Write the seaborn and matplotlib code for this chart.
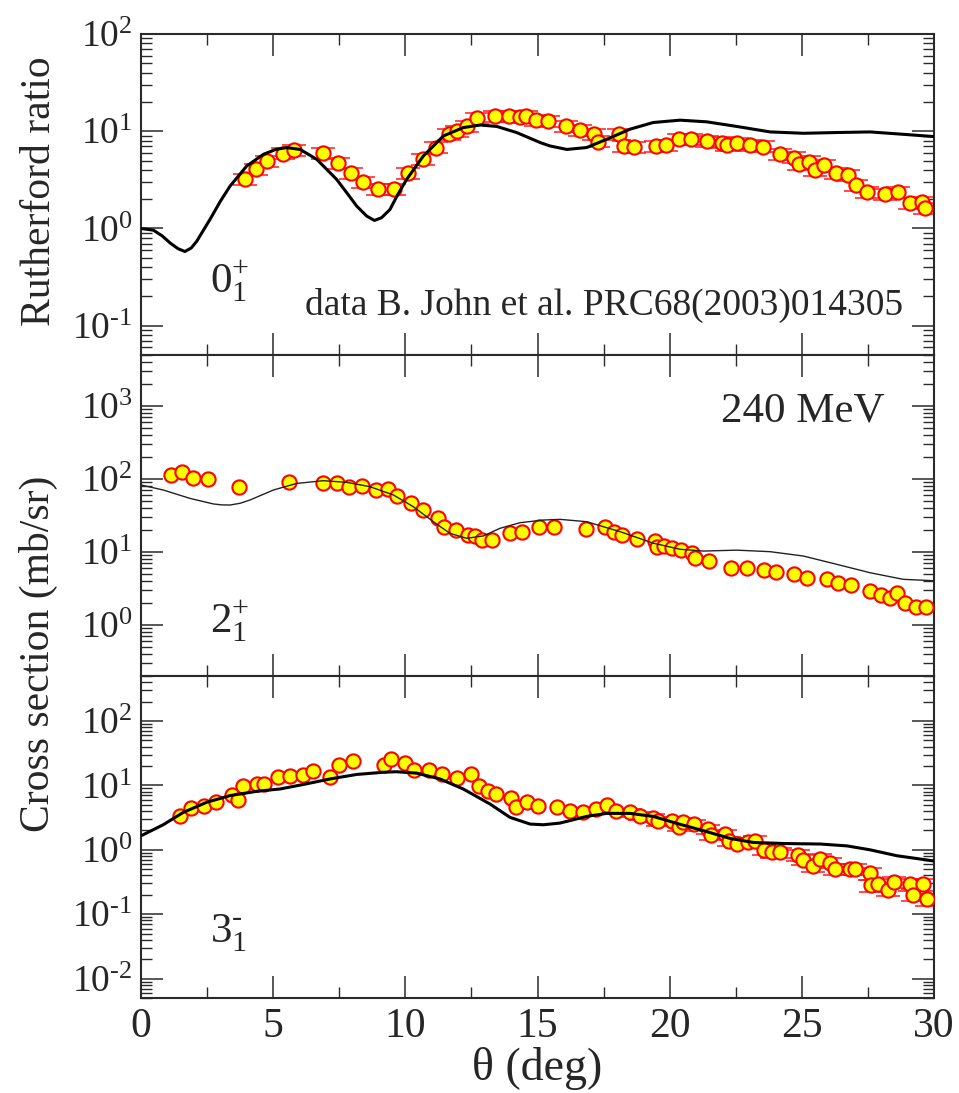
import numpy as np
import pandas as pd
import matplotlib
matplotlib.use("Agg")
import matplotlib.pyplot as plt
import seaborn as sns
from matplotlib.ticker import LogLocator, MultipleLocator, FuncFormatter, NullFormatter

# ---------------- data ----------------
# Panel 1: 0+_1 elastic, Rutherford ratio
x_g = [3.93, 4.34, 4.75, 5.36, 5.80, 6.90, 7.47, 7.95, 8.39, 8.98, 9.57, 10.09, 10.68, 11.15,
       11.65, 11.94, 12.32, 12.70, 13.39, 13.92, 14.34, 14.57, 14.95, 15.40, 16.07, 16.61,
       17.14, 17.27, 18.07, 18.29, 18.66, 19.47, 19.85, 20.36, 20.80, 21.43, 21.97, 22.18,
       22.55, 23.03, 23.52, 24.18, 24.72, 24.91, 25.26, 25.50, 25.82, 26.30, 26.74, 27.05,
       27.48, 28.15, 28.63, 29.10, 29.54, 29.66]
y_g = [3.2, 4.1, 4.94, 5.89, 6.41, 5.93, 4.75, 3.69, 3.0, 2.52, 2.52, 3.69, 5.14, 6.79,
       9.3, 10.1, 11.3, 13.7, 14.2, 14.4, 14.1, 14.4, 13.1, 12.7, 11.3, 10.3,
       9.3, 7.83, 9.3, 7.06, 6.9, 7.06, 7.22, 8.27, 8.27, 7.95, 7.65, 7.22,
       7.52, 7.22, 6.95, 5.79, 5.36, 4.57, 4.87, 3.99, 4.5, 3.75, 3.55, 2.8,
       2.39, 2.24, 2.39, 1.84, 1.87, 1.63]
rel_err_g = 0.13

th_x_g = [0.0, 0.47, 0.8, 1.10, 1.4, 1.66, 1.9, 2.11, 2.61, 3.0, 3.37, 4.0, 4.63, 5.1, 5.51,
          6.02, 6.65, 7.40, 7.8, 8.16, 8.54, 8.83, 9.10, 9.42, 9.7, 10.05, 10.68, 11.44,
          12.19, 12.83, 13.46, 14.21, 15.10, 15.47, 16.11, 16.86, 17.62, 18.50, 19.38,
          20.39, 21.40, 22.54, 23.80, 25.06, 26.32, 27.58, 28.84, 30.0]
th_y_g = [1.0, 0.96, 0.84, 0.71, 0.62, 0.58, 0.63, 0.74, 1.24, 1.9, 2.73, 4.39, 5.79, 6.5, 6.79,
          6.5, 5.14, 3.2, 2.3, 1.70, 1.34, 1.21, 1.29, 1.57, 2.2, 3.2, 5.56, 8.95,
          10.9, 11.6, 11.2, 9.7, 7.65, 7.06, 6.5, 6.8, 8.27, 10.5, 12.3,
          13.0, 12.5, 11.2, 9.84, 9.53, 9.7, 9.84, 9.3, 8.81]

# Panel 2: 2+_1, cross section (mb/sr)
x_2p = [1.14, 1.56, 1.98, 2.52, 3.72, 5.61, 6.90, 7.40, 7.87, 8.35, 8.89, 9.33, 9.67, 10.22,
        10.68, 11.23, 11.46, 11.92, 12.38, 12.64, 12.91, 13.27, 13.96, 14.40, 15.07, 15.64,
        16.84, 17.56, 17.91, 18.21, 18.75, 19.45, 19.51, 19.79, 20.08, 20.43, 20.86, 20.96,
        21.49, 22.32, 22.92, 23.58, 24.01, 24.71, 25.19, 25.94, 26.38, 26.86, 27.58, 28.0,
        28.34, 28.59, 28.91, 29.32, 29.69]
y_2p = [113, 124, 104, 100, 78.5, 90, 87, 87, 78.5, 81, 71, 72, 59, 47,
        37.6, 28.9, 22.2, 20, 17.1, 16.6, 14.6, 14.6, 18, 19, 22.2, 22.2,
        20.6, 21.8, 19, 17.1, 15.1, 14.3, 11.6, 12.1, 11.3, 10.6, 9.8, 8.2,
        7.5, 6.0, 6.0, 5.67, 5.37, 4.95, 4.44, 4.22, 3.72, 3.53, 2.92, 2.58,
        2.32, 2.72, 1.98, 1.75, 1.75]

th_x_2p = [0.0, 0.84, 1.85, 2.74, 3.05, 3.37, 3.75, 4.12, 5.01, 5.89, 6.90, 7.78, 8.66, 9.55,
           10.30, 11.06, 11.69, 12.32, 12.95, 13.58, 14.34, 15.22, 15.85, 16.86, 18.12,
           19.38, 20.39, 21.28, 22.54, 23.80, 25.06, 26.32, 27.58, 28.84, 30.0]
th_y_2p = [82.8, 70.7, 54.3, 45.5, 44.2, 44, 46.5, 51.5, 70.7, 87, 94.8, 90, 78.5, 60.4,
           41.8, 26, 18, 15.4, 16.6, 21.1, 25.2, 27.4, 28, 26, 19,
           13.2, 10.9, 10.3, 10.6, 10.1, 8.8, 6.78, 5.2, 4.22, 4.04]

# Panel 3: 3-_1, cross section (mb/sr)
x_3m = [1.47, 1.89, 2.38, 2.84, 3.43, 3.66, 3.87, 4.38, 4.67, 5.20, 5.64, 6.12, 6.50, 7.15,
        7.49, 8.03, 9.19, 9.46, 9.99, 10.34, 10.90, 11.38, 11.97, 12.47, 12.79, 13.14,
        13.42, 14.0, 14.18, 14.62, 15.0, 15.73, 16.23, 16.71, 17.22, 17.64, 17.97, 18.50,
        18.86, 19.38, 19.57, 20.08, 20.37, 20.52, 20.92, 21.46, 21.55, 22.09, 22.24, 22.56,
        22.95, 23.23, 23.58, 23.86, 24.18, 24.87, 25.04, 25.42, 25.70, 26.08, 26.27, 26.84,
        27.0, 27.58, 27.62, 27.90, 28.25, 28.50, 29.10, 29.22, 29.60, 29.75]
y_3m = [3.3, 4.4, 4.85, 5.46, 7.2, 6.02, 9.7, 10.6, 10.6, 13.4, 13.9, 14.3, 16.6, 13.4,
        20.4, 23.8, 20.4, 25.9, 22.5, 17.1, 17.1, 14.8, 12.9, 15.1, 9.7, 8.1,
        7.38, 6.4, 4.57, 5.46, 4.73, 4.57, 4.06, 3.91, 4.31, 4.98, 4.06, 3.81,
        3.39, 3.12, 2.76, 2.83, 2.3, 2.67, 2.51, 2.1, 1.69, 1.75, 1.38, 1.25,
        1.3, 1.38, 1.0, 0.91, 0.91, 0.83, 0.70, 0.56, 0.72, 0.63, 0.51, 0.51,
        0.51, 0.43, 0.28, 0.29, 0.24, 0.32, 0.29, 0.20, 0.29, 0.17]
rel_err_3m = [0, 0, 0, 0, 0, 0, 0, 0, 0, 0, 0, 0, 0, 0,
              0, 0, 0, 0, 0, 0, 0, 0, 0, 0, 0, 0,
              0, 0, 0, 0, 0, 0, 0, 0, 0, 0, 0, 0.14,
              0.14, 0.14, 0.14, 0.15, 0.15, 0.15, 0.15, 0.16, 0.16, 0.16, 0.16, 0.16,
              0.17, 0.17, 0.17, 0.17, 0.17, 0.18, 0.18, 0.18, 0.18, 0.18, 0.19, 0.19,
              0.19, 0.2, 0.2, 0.2, 0.2, 0.2, 0.21, 0.21, 0.21, 0.21]

th_x_3m = [0.0, 0.84, 1.6, 2.48, 3.37, 4.38, 5.26, 6.27, 7.15, 8.16, 9.17, 9.67, 10.43,
           11.31, 12.19, 13.20, 13.96, 14.72, 15.22, 15.85, 16.86, 17.62, 18.50, 19.38,
           20.27, 21.28, 22.29, 23.17, 24.43, 25.70, 26.71, 27.58, 28.59, 29.47, 30.0]
th_y_3m = [1.65, 2.45, 3.81, 5.46, 6.95, 8.1, 8.8, 10.6, 12.6, 14.8, 16.0, 16.3, 15.5,
           12.6, 8.8, 5.15, 3.19, 2.51, 2.45, 2.6, 3.3, 3.68, 3.68, 3.3,
           2.57, 1.98, 1.5, 1.3, 1.25, 1.23, 1.15, 1.0, 0.81, 0.72, 0.67]

x_ticks = [0, 5, 10, 15, 20, 25, 30]

# ---------------- style ----------------
sns.set_style("ticks")
plt.rcParams["font.family"] = ["Liberation Serif", "DejaVu Serif"]
plt.rcParams["mathtext.fontset"] = "custom"
plt.rcParams["mathtext.rm"] = "Liberation Serif"
plt.rcParams["mathtext.it"] = "Liberation Serif:italic"
plt.rcParams["mathtext.bf"] = "Liberation Serif:bold"

W, H = 959, 1093
fig = plt.figure(figsize=(W / 100, H / 100), dpi=100)
fig.patch.set_facecolor("white")

left = 141 / W
width = 793 / W
panels = [
    (34, 355, (0.05, 100)),
    (355, 676, (0.2, 5000)),
    (676, 998, (0.005, 500)),
]
axes = []
for top_px, bot_px, ylim in panels:
    ax = fig.add_axes([left, 1 - bot_px / H, width, (bot_px - top_px) / H])
    ax.set_yscale("log")
    ax.set_xlim(0, 30)
    ax.set_ylim(*ylim)
    axes.append(ax)


def ylab(v, pos):
    e = int(round(np.log10(v)))
    if e < 0:
        return r"$10^{\text{-}%d}$" % (-e)
    return r"$10^{%d}$" % e


edge = "#2a2a2a"
for i, ax in enumerate(axes):
    ax.xaxis.set_major_locator(MultipleLocator(5))
    ax.xaxis.set_minor_locator(MultipleLocator(2.5))
    ax.yaxis.set_major_locator(LogLocator(base=10, numticks=30))
    ax.yaxis.set_minor_locator(LogLocator(base=10, subs=np.arange(2, 10), numticks=30))
    ax.yaxis.set_major_formatter(FuncFormatter(ylab))
    ax.yaxis.set_minor_formatter(NullFormatter())
    ax.tick_params(which="major", direction="in", length=16, width=1.1, color=edge,
                   top=True, right=True)
    ax.tick_params(which="minor", direction="in", length=8, width=1.0, color=edge,
                   top=True, right=True)
    ax.tick_params(axis="y", which="major", labelsize=27, pad=6)
    ax.tick_params(axis="x", which="major", labelsize=30, pad=7)
    for s in ax.spines.values():
        s.set_linewidth(1.5)
        s.set_color(edge)
    if i < 2:
        ax.tick_params(labelbottom=False)
    else:
        ax.set_xticks(x_ticks)
        ax.set_xticklabels([str(t) for t in x_ticks])
    ax.set_xlabel("")
    ax.set_ylabel("")

datasets = [
    (x_g, y_g, [rel_err_g] * len(x_g), th_x_g, th_y_g, 2.2, "black"),
    (x_2p, y_2p, [0] * len(x_2p), th_x_2p, th_y_2p, 1.0, "#222222"),
    (x_3m, y_3m, rel_err_3m, th_x_3m, th_y_3m, 2.2, "black"),
]

for ax, (xd, yd, re, tx, ty, lw, lc) in zip(axes, datasets):
    df = pd.DataFrame({"x": xd, "y": yd, "e": re})
    de = df[df["e"] > 0]
    if len(de):
        ax.errorbar(de["x"], de["y"], yerr=de["y"] * de["e"], fmt="none",
                    ecolor="#ff1a1a", elinewidth=1.1, capsize=8.5, capthick=1.1, zorder=2)
    sns.scatterplot(data=df, x="x", y="y", ax=ax, s=105, color="#ffff00",
                    edgecolor="#ff0000", linewidth=1.5, zorder=3, legend=False)
    dt = pd.DataFrame({"x": tx, "y": ty})
    sns.lineplot(data=dt, x="x", y="y", ax=ax, color=lc, linewidth=lw, sort=False,
                 estimator=None, zorder=4, legend=False)
    ax.set_xlim(0, 30)
    ax.set_xlabel("")
    ax.set_ylabel("")

# annotations
state_kw = dict(fontsize=31, va="baseline", ha="left")
axes[0].text(0.087, 0.196, r"$0_{1}^{+}$", transform=axes[0].transAxes, **state_kw)
axes[0].text(0.961, 0.125, "data B. John et al. PRC68(2003)014305",
             transform=axes[0].transAxes, fontsize=27, va="baseline", ha="right")
axes[1].text(0.938, 0.794, "240 MeV", transform=axes[1].transAxes, fontsize=31,
             va="baseline", ha="right")
axes[1].text(0.087, 0.137, r"$2_{1}^{+}$", transform=axes[1].transAxes, **state_kw)
axes[2].text(0.087, 0.173, r"$3_{1}^{\text{-}}$", transform=axes[2].transAxes, **state_kw)

fig.text(40 / W, 1 - 191 / H, "Rutherford ratio", rotation=90, fontsize=30,
         ha="center", va="center")
fig.text(38 / W, 1 - 654 / H, "Cross section (mb/sr)", rotation=90, fontsize=30,
         ha="center", va="center")
fig.text(537.5 / W, 1 - 1080 / H, "θ (deg)", fontsize=33, ha="center", va="baseline")

fig.savefig("out.png", dpi=100, facecolor="white")
